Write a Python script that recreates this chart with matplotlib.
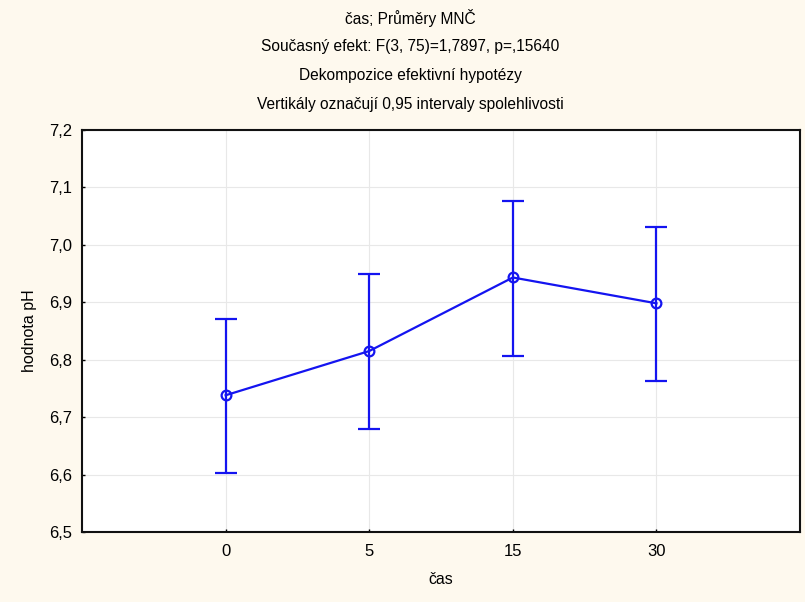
import matplotlib.pyplot as plt
from matplotlib.ticker import FuncFormatter

# data
cas = ['0', '5', '15', '30']
mean_ph = [6.738, 6.815, 6.943, 6.898]
upper = [6.871, 6.949, 7.076, 7.031]
lower = [6.603, 6.679, 6.807, 6.762]

titles = ['čas; Průměry MNČ',
          'Současný efekt: F(3, 75)=1,7897, p=,15640',
          'Dekompozice efektivní hypotézy',
          'Vertikály označují 0,95 intervaly spolehlivosti']

plt.rcParams['font.family'] = ['Liberation Sans', 'DejaVu Sans']

fig = plt.figure(figsize=(8.05, 6.02), dpi=100)
fig.patch.set_facecolor('#fef9ee')
ax = fig.add_axes([0.1019, 0.1163, 0.892, 0.668])
ax.set_facecolor('white')

x = list(range(1, len(cas) + 1))
yerr = [[m - l for m, l in zip(mean_ph, lower)],
        [u - m for m, u in zip(mean_ph, upper)]]
ax.errorbar(x, mean_ph, yerr=yerr, color='#1414f0', lw=1.6, marker='o',
            ms=7, mfc='none', mec='#1414f0', mew=1.6, capsize=8, capthick=1.6,
            elinewidth=1.6)

ax.set_xlim(0, 5)
ax.set_ylim(6.5, 7.2)
ax.set_xticks(x)
ax.set_xticklabels(cas)
ax.set_yticks([6.5, 6.6, 6.7, 6.8, 6.9, 7.0, 7.1, 7.2])
ax.yaxis.set_major_formatter(FuncFormatter(lambda v, p: f'{v:.1f}'.replace('.', ',')))
ax.grid(True, color='#e8e8e8', lw=0.8)
ax.set_axisbelow(True)
ax.tick_params(direction='in', length=2, width=1, labelsize=12)
ax.tick_params(axis='x', pad=9)
ax.tick_params(axis='y', pad=7)
for s in ax.spines.values():
    s.set_linewidth(1.5)
    s.set_color('#111111')

ax.set_ylabel('hodnota pH', fontsize=11.5, labelpad=9)
ax.set_xlabel('čas', fontsize=11.5, labelpad=9)

for i, t in enumerate(titles):
    fig.text(0.51, 1 - (18 + i * 28.7) / 602, t, ha='center', va='center',
             fontsize=11.2)

fig.savefig('out.png', dpi=100, facecolor=fig.get_facecolor())
